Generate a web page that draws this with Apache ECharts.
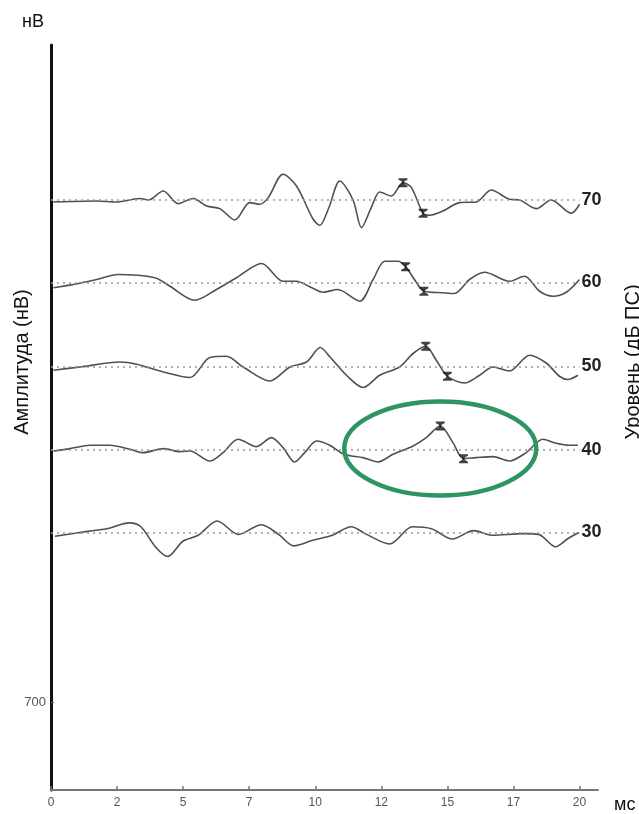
<!DOCTYPE html>
<html>
<head>
<meta charset="utf-8">
<script src="https://cdn.jsdelivr.net/npm/echarts@6/dist/echarts.min.js"></script>
<style>
  html, body { margin: 0; padding: 0; background: #fff; }
  #chart { width: 639px; height: 814px; }
</style>
</head>
<body>
<div id="chart"></div>
<script>
// stimulus levels (dB) and the vertical offset of each trace (nV)
const levels = ['70', '60', '50', '40', '30'];
const levelOffsets = [4720, 4060, 3390, 2720, 2060];

// x axis ticks every 2.5 ms, labels truncated as in the device printout
const timeTicks = [0, 2.5, 5, 7.5, 10, 12.5, 15, 17.5, 20];
const ampTicks = [700];

// waveforms: time (ms) and amplitude relative to the trace baseline (nV)
const t70 = [0.09, 1.73, 2.48, 3.36, 3.68, 4.25, 4.81, 5.38, 5.89, 6.39, 6.96, 7.52, 7.90, 8.22, 8.78, 9.29, 9.92, 10.17, 10.51, 10.93, 11.43, 11.75, 12.12, 12.44, 12.88, 13.32, 13.64, 14.08, 14.33, 14.83, 15.46, 16.09, 16.66, 17.35, 17.73, 18.36, 18.93, 19.69, 20.0];
const a70 = [-16, -8, -16, 12, 0, 72, -29, 12, -48, -69, -160, -21, -34, 19, 206, 112, -154, -202, -64, 152, 0, -221, -61, 64, 32, 139, 99, -106, -122, -88, -21, -16, 80, 6, 0, -69, 0, -106, -34];

const t60 = [0.09, 0.84, 1.73, 2.54, 3.93, 4.50, 5.44, 6.26, 7.02, 7.97, 8.78, 9.29, 9.79, 10.30, 10.85, 11.68, 12.19, 12.63, 13.13, 13.42, 13.83, 14.11, 14.83, 15.27, 15.84, 16.41, 17.35, 17.92, 18.49, 18.99, 19.50, 20.0];
const a60 = [-42, -16, 24, 64, 38, -30, -142, -56, 38, 152, 10, 10, -34, -78, -56, -150, 24, 170, 170, 126, 0, -70, -82, -88, 24, 82, 10, 50, -70, -110, -78, 24];

const t50 = [0.09, 1.10, 2.61, 3.24, 4.25, 5.26, 6.01, 6.64, 7.27, 8.28, 9.04, 9.67, 10.19, 10.55, 11.18, 11.81, 12.44, 13.19, 13.70, 14.18, 14.58, 15.00, 15.65, 16.22, 16.72, 17.35, 18.11, 18.74, 19.24, 19.56, 19.94];
const a50 = [-32, -6, 34, 16, -46, -90, 70, 80, -6, -118, -6, 34, 150, 76, -72, -170, -72, -6, 102, 160, 48, -80, -134, -72, -6, -38, 88, 26, -80, -106, -72];

const t40 = [0.09, 0.72, 1.47, 2.23, 2.99, 3.49, 4.25, 4.88, 5.26, 6.01, 6.51, 7.08, 7.78, 8.34, 8.78, 9.22, 9.60, 10.05, 10.55, 11.08, 11.81, 12.37, 12.94, 13.70, 14.20, 14.73, 15.21, 15.61, 16.09, 16.72, 17.35, 17.98, 18.61, 19.12, 19.62, 19.94];
const a40 = [-8, 11, 38, 38, 6, -21, 11, -13, -8, -88, -21, 86, 27, 99, 19, -96, -21, 72, 38, -34, -61, -96, -34, 32, 99, 192, 59, -69, -61, -53, -88, -21, 86, 54, 38, 38];

const t30 = [0.15, 1.38, 2.10, 2.97, 3.40, 3.98, 4.42, 4.99, 5.57, 6.29, 7.09, 7.96, 8.61, 9.19, 9.91, 10.64, 11.36, 11.94, 12.81, 13.68, 14.40, 15.19, 15.99, 16.71, 17.87, 18.45, 19.10, 19.54, 19.97];
const a30 = [-30, 9, 30, 77, 46, -122, -192, -70, -22, 92, -15, 62, -15, -107, -62, -22, 46, -15, -92, 46, 30, -52, 15, -22, -9, -15, -114, -52, 0];

// marked peak / trough latencies (ms) and amplitudes (nV)
const markTimes = [[13.32, 14.08], [13.42, 14.11], [14.18, 15.00], [14.73, 15.61], []];
const markAmps = [[139, -106], [126, -70], [160, -80], [192, -69], []];

// highlighted region around the 40 dB response
const highlightCenter = [14.73, 2732];

const waveTimes = [t70, t60, t50, t40, t30];
const waveAmps = [a70, a60, a50, a40, a30];

const FONT = 'Liberation Sans, Arial, sans-serif';
const chart = echarts.init(document.getElementById('chart'));

const series = [];
levels.forEach((lvl, k) => {
	const base = levelOffsets[k];
	series.push({
		name: lvl + ' дБ',
		type: 'line',
		data: waveTimes[k].map((t, i) => [t, base + waveAmps[k][i]]),
		smooth: 0.3,
		symbol: 'none',
		lineStyle: { color: '#505050', width: 1.6 },
		z: 3,
		markLine: {
			silent: true,
			symbol: 'none',
			lineStyle: { type: [2, 4], color: '#999', width: 1.5 },
			label: {
				position: 'end',
				formatter: lvl,
				fontFamily: FONT,
				fontWeight: 'bold',
				fontSize: 18,
				color: '#222',
				distance: 2,
			},
			data: [[{ coord: [0, base] }, { coord: [timeTicks[timeTicks.length - 1], base] }]],
		},
	});
	if (markTimes[k].length) {
		series.push({
			type: 'scatter',
			data: markTimes[k].map((t, i) => [t, base + markAmps[k][i]]),
			symbol: 'path://M0,0H10V2L6.2,4.5V7.5L10,10V12H0V10L3.8,7.5V4.5L0,2Z',
			symbolSize: [9, 9],
			itemStyle: { color: '#111' },
			z: 5,
		});
	}
});

const option = {
	animation: false,
	textStyle: { fontFamily: FONT },
	grid: { left: 51, right: 41, top: 45, bottom: 24 },
	xAxis: {
		type: 'value',
		min: 0,
		max: 20.7,
		name: 'мс',
		nameLocation: 'end',
		nameGap: 16,
		nameTextStyle: { color: '#111', fontSize: 18, verticalAlign: 'top', padding: [6, 0, 0, 0] },
		axisLine: { lineStyle: { color: '#777', width: 2 } },
		axisTick: { customValues: timeTicks, inside: true, length: 4, lineStyle: { color: '#777', width: 1.5 } },
		axisLabel: {
			customValues: timeTicks,
			color: '#555',
			fontSize: 12,
			margin: 7,
			formatter: (v) => String(Math.floor(v)),
		},
		splitLine: { show: false },
	},
	yAxis: {
		type: 'value',
		min: 0,
		max: 5960,
		name: 'нВ',
		nameLocation: 'end',
		nameGap: 14,
		nameTextStyle: { color: '#111', fontSize: 18, align: 'right', padding: [0, 7, 0, 0] },
		axisLine: { lineStyle: { color: '#111', width: 3 } },
		axisTick: { show: true, customValues: ampTicks, inside: true, length: 3, lineStyle: { color: '#666' } },
		axisLabel: { customValues: ampTicks, color: '#555', fontSize: 13, margin: 5 },
		splitLine: { show: false },
	},
	series: series,
};

chart.setOption(option);

const centerPx = chart.convertToPixel({ gridIndex: 0 }, highlightCenter);
const titleY = 362;
chart.setOption({
	graphic: [
		{
			type: 'ellipse',
			shape: { cx: centerPx[0], cy: centerPx[1], rx: 96, ry: 47 },
			style: { fill: 'none', stroke: '#2e9462', lineWidth: 4.5 },
			z: 10,
		},
		{
			type: 'text',
			x: 22,
			y: titleY,
			rotation: Math.PI / 2,
			style: {
				text: 'Амплитуда (нВ)',
				fontSize: 20,
				fontFamily: FONT,
				fill: '#111',
				align: 'center',
				verticalAlign: 'middle',
			},
		},
		{
			type: 'text',
			x: 633,
			y: titleY,
			rotation: Math.PI / 2,
			style: {
				text: 'Уровень (дБ ПС)',
				fontSize: 20,
				fontFamily: FONT,
				fill: '#111',
				align: 'center',
				verticalAlign: 'middle',
			},
		},
	],
});
</script>
</body>
</html>
